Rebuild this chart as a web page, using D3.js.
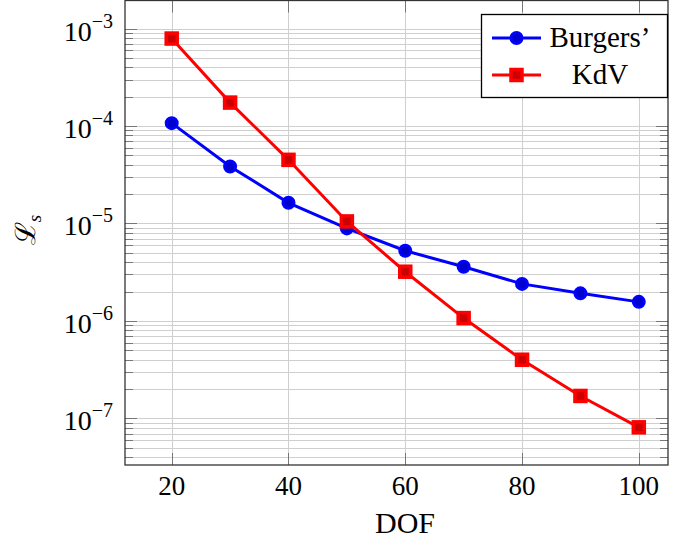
<!DOCTYPE html>
<html>
<head>
<meta charset="utf-8">
<script src="https://cdn.jsdelivr.net/npm/d3@7"></script>
<style>
  body { margin: 0; background: #fff; }
  svg { display: block; }
  text { font-family: "Liberation Serif", "DejaVu Serif", serif; fill: #000; }
</style>
</head>
<body>
<div id="chart"></div>
<script>
// --- Data ---
var dof = [20, 30, 40, 50, 60, 70, 80, 90, 100];
var burgers = [1.07e-4, 3.85e-5, 1.63e-5, 8.9e-6, 5.25e-6, 3.6e-6, 2.4e-6, 1.92e-6, 1.57e-6];
var kdv = [7.9e-4, 1.74e-4, 4.5e-5, 1.05e-5, 3.2e-6, 1.07e-6, 4.0e-7, 1.7e-7, 8.1e-8];
var xTicks = [20, 40, 60, 80, 100];
var yExponents = [-3, -4, -5, -6, -7];
var seriesNames = ['Burgers\u2019', 'KdV'];

var width = 681, height = 546;
// plot box edges (named so they don't clash with window.top)
var pLeft = 125, pRight = 668, pTop = 0.5, pBottom = 465;

var svg = d3.select('#chart').append('svg')
    .attr('width', width)
    .attr('height', height);

// --- Scales ---
var x = d3.scaleLinear().domain([12, 105]).range([pLeft, pRight]);
var y = d3.scaleLog().domain([Math.pow(10, -7.478), Math.pow(10, -2.712)]).range([pBottom, pTop]);

// Minor values: 2..9 x each decade that falls in the range
var minorVals = [];
for (var e = -8; e <= -2; e++) {
    for (var m = 2; m <= 9; m++) {
        var v = m * Math.pow(10, e);
        if (v >= y.domain()[0] && v <= y.domain()[1]) minorVals.push(v);
    }
}
var majorVals = yExponents.map(function (p) { return Math.pow(10, p); });

// --- Grid ---
var grid = svg.append('g').attr('stroke', '#cfcfcf').attr('stroke-width', 1);
grid.selectAll('line.gy').data(minorVals.concat(majorVals)).join('line')
    .attr('x1', pLeft).attr('x2', pRight)
    .attr('y1', function (d) { return Math.round(y(d)) + 0.5; })
    .attr('y2', function (d) { return Math.round(y(d)) + 0.5; });
grid.selectAll('line.gx').data(xTicks).join('line')
    .attr('y1', pTop).attr('y2', pBottom)
    .attr('x1', function (d) { return Math.round(x(d)) + 0.5; })
    .attr('x2', function (d) { return Math.round(x(d)) + 0.5; });

// --- Ticks (inside, both sides) ---
var ticks = svg.append('g').attr('stroke', '#777').attr('stroke-width', 1);
function yTick(vals, len) {
    vals.forEach(function (d) {
        var yy = Math.round(y(d)) + 0.5;
        ticks.append('line').attr('x1', pLeft).attr('x2', pLeft + len).attr('y1', yy).attr('y2', yy);
        ticks.append('line').attr('x1', pRight).attr('x2', pRight - len).attr('y1', yy).attr('y2', yy);
    });
}
yTick(minorVals, 8);
yTick(majorVals, 12);
xTicks.forEach(function (d) {
    var xx = Math.round(x(d)) + 0.5;
    ticks.append('line').attr('x1', xx).attr('x2', xx).attr('y1', pBottom).attr('y2', pBottom - 12);
    ticks.append('line').attr('x1', xx).attr('x2', xx).attr('y1', pTop).attr('y2', pTop + 12);
});

// --- Frame ---
svg.append('rect')
    .attr('x', pLeft).attr('y', pTop)
    .attr('width', pRight - pLeft).attr('height', pBottom - pTop)
    .attr('fill', 'none').attr('stroke', '#333').attr('stroke-width', 1.3);

// --- Tick labels ---
svg.append('g').selectAll('text').data(xTicks).join('text')
    .attr('x', function (d) { return x(d); })
    .attr('y', 495)
    .attr('text-anchor', 'middle')
    .attr('font-size', 27)
    .text(function (d) { return d; });

var yl = svg.append('g').selectAll('text').data(yExponents).join('text')
    .attr('x', 113)
    .attr('y', function (d) { return y(Math.pow(10, d)) + 12; })
    .attr('text-anchor', 'end')
    .attr('font-size', 28);
yl.append('tspan').text('10');
yl.append('tspan').attr('dy', -13).attr('font-size', 20).text(function (d) { return '\u2212' + Math.abs(d); });

// --- Axis labels ---
svg.append('text')
    .attr('x', 405).attr('y', 533)
    .attr('text-anchor', 'middle')
    .attr('font-size', 30)
    .text('DOF');

var ylab = svg.append('text')
    .attr('transform', 'translate(35,' + 230 + ') rotate(-90)')
    .attr('text-anchor', 'middle')
    .attr('font-size', 28);
ylab.append('tspan').text('\u2112');
ylab.append('tspan').attr('dy', 6).attr('font-size', 19).attr('font-style', 'italic').text('s');

// --- Series ---
var lineGen = d3.line()
    .x(function (d) { return x(d[0]); })
    .y(function (d) { return y(d[1]); });

var bPts = dof.map(function (d, i) { return [d, burgers[i]]; });
var kPts = dof.map(function (d, i) { return [d, kdv[i]]; });

function drawCircle(g, cx, cy) {
    g.append('circle').attr('cx', cx).attr('cy', cy).attr('r', 5.5)
        .attr('fill', '#0000cc').attr('stroke', '#0000ff').attr('stroke-width', 3);
}
function drawSquare(g, cx, cy) {
    g.append('rect').attr('x', cx - 5.5).attr('y', cy - 5.5).attr('width', 11).attr('height', 11)
        .attr('fill', '#cc0000').attr('stroke', '#ff0000').attr('stroke-width', 3.5);
}

var gB = svg.append('g');
gB.append('path').datum(bPts).attr('d', lineGen)
    .attr('fill', 'none').attr('stroke', '#0000ff').attr('stroke-width', 3);
bPts.forEach(function (p) { drawCircle(gB, x(p[0]), y(p[1])); });

var gK = svg.append('g');
gK.append('path').datum(kPts).attr('d', lineGen)
    .attr('fill', 'none').attr('stroke', '#ff0000').attr('stroke-width', 3);
kPts.forEach(function (p) { drawSquare(gK, x(p[0]), y(p[1])); });

// --- Legend ---
var lg = svg.append('g');
lg.append('rect').attr('x', 481.5).attr('y', 14.5).attr('width', 186).attr('height', 83)
    .attr('fill', '#fff').attr('stroke', '#000').attr('stroke-width', 1.3);
var rows = [38, 75];
var colors = ['#0000ff', '#ff0000'];
rows.forEach(function (ry, i) {
    lg.append('line').attr('x1', 492).attr('x2', 541).attr('y1', ry).attr('y2', ry)
        .attr('stroke', colors[i]).attr('stroke-width', 3);
    if (i === 0) drawCircle(lg, 516.5, ry); else drawSquare(lg, 516.5, ry);
    lg.append('text').attr('x', 600).attr('y', ry + 9)
        .attr('text-anchor', 'middle').attr('font-size', 29)
        .text(seriesNames[i]);
});
</script>
</body>
</html>
